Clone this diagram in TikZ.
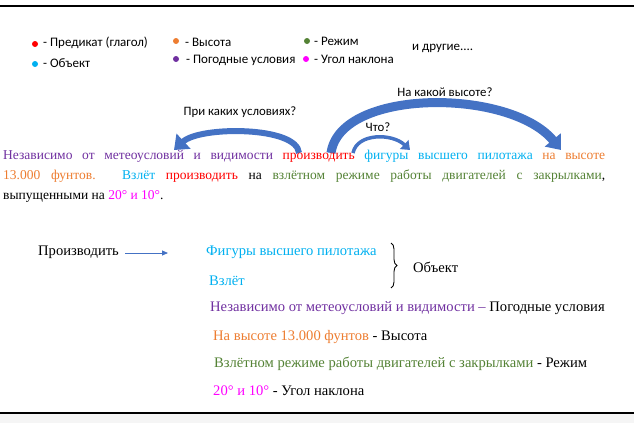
\documentclass[tikz,border=0pt]{standalone}
\usepackage{fontspec}
\setmainfont{Liberation Serif}
\newfontfamily\serfnt{Liberation Serif}
\newfontfamily\legfnt{Carlito}
\usetikzlibrary{arrows.meta,decorations.pathreplacing}
\definecolor{cpur}{RGB}{112,48,160}
\definecolor{cred}{RGB}{255,0,0}
\definecolor{cblu}{RGB}{0,176,240}
\definecolor{cora}{RGB}{237,125,49}
\definecolor{cgre}{RGB}{84,130,53}
\definecolor{cmag}{RGB}{255,0,255}
\definecolor{carr}{RGB}{68,114,196}
\begin{document}
\begin{tikzpicture}[x=1pt,y=-1pt,
  lg/.style={font=\legfnt\fontsize{13}{15}\selectfont,anchor=west,inner sep=0},
  qs/.style={font=\legfnt\fontsize{12.8}{15}\selectfont,anchor=center,inner sep=0},
  dot/.style={circle,inner sep=0,minimum size=6pt},
  lw/.style={font=\serfnt\fontsize{14.6}{16}\selectfont,anchor=west,inner sep=0},
  bigarr/.style={draw=carr,line width=#1,-{Triangle[width=20pt,length=13pt]}}]
\useasboundingbox (0,0) rectangle (634,423);
\fill[gray!8] (0,414) rectangle (634,423);
\draw[line width=1.2pt] (0,6) -- (634,6);
\draw[line width=1.2pt] (0,413) -- (634,413);
% legend
\node[dot,fill=cred] (d1) at (35,44) {};
\node[lg] (l1) at (43,43) {- Предикат (глагол)};
\node[dot,fill=cblu] (d2) at (35,64) {};
\node[lg] (l2) at (43,63) {- Объект};
\node[dot,fill=cora] (d3) at (176,41) {};
\node[lg] (l3) at (185,42) {- Высота};
\node[dot,fill=cpur] (d4) at (176,59) {};
\node[lg] (l4) at (186,60) {- Погодные условия};
\node[dot,fill=cgre] (d5) at (307,41) {};
\node[lg] (l5) at (314,41) {- Режим};
\node[dot,fill=cmag] (d6) at (306,59) {};
\node[lg] (l6) at (314,59) {- Угол наклона};
\node[lg] (l7) at (412,48) {и другие....};
% questions
\node[qs] (q1) at (240,112) {При каких условиях?};
\node[qs] (q2) at (445,92) {На какой высоте?};
\node[qs] (q3) at (378,127) {Что?};
\coordinate (a1s) at (299,153); \coordinate (a1e) at (174,150);
\coordinate (a2s) at (331,153); \coordinate (a2e) at (561,150);
\coordinate (a3s) at (353,153); \coordinate (a3e) at (410,150);
\draw[bigarr=6pt] (a1s) .. controls (297,126) and (200,126) .. (a1e);
\draw[bigarr=9pt] (a2s) .. controls (340,88) and (510,88) .. (a2e);
\draw[draw=carr,line width=3.5pt,-{Triangle[width=12pt,length=8pt]}] (a3s) .. controls (357,133) and (392,133) .. (a3e);
% paragraph
\node[anchor=north west,inner sep=0,text width=602pt,align=justify,
  font=\serfnt\fontsize{13.5}{20}\selectfont] (par) at (3,150)
{\textcolor{cpur}{Независимо от метеоусловий и видимости} \textcolor{cred}{производить} \textcolor{cblu}{фигуры высшего пилотажа} \textcolor{cora}{на высоте}\linebreak
\textcolor{cora}{13.000 фунтов.} \textcolor{cblu}{Взлёт} \textcolor{cred}{производить} на \textcolor{cgre}{взлётном режиме работы двигателей с закрылками},\linebreak
выпущенными на \textcolor{cmag}{20° и 10°}.};
% lower
\node[lw] (p) at (38,252) {Производить};
\coordinate (pa) at (125,253); \coordinate (pb) at (168,253);
\draw[carr,line width=0.8pt,-{Triangle[width=5pt,length=6pt]}] (pa) -- (pb);
\node[lw,text=cblu] (f) at (206,252) {Фигуры высшего пилотажа};
\node[lw,text=cblu] (v) at (209,281) {Взлёт};
\draw[line width=0.9pt,decorate,decoration={brace,amplitude=6pt}] (391,243) -- (391,288);
\node[lw] (ob) at (413,267) {Объект};
\node[lw] (r1) at (210,308) {\textcolor{cpur}{Независимо от метеоусловий и видимости –} Погодные условия};
\node[lw] (r2) at (213,337) {\textcolor{cora}{На высоте 13.000 фунтов} - Высота};
\node[lw] (r3) at (214,364) {\textcolor{cgre}{Взлётном режиме работы двигателей с закрылками} - Режим};
\node[lw] (r4) at (213,391) {\textcolor{cmag}{20° и 10°} - Угол наклона};
\end{tikzpicture}
\end{document}
